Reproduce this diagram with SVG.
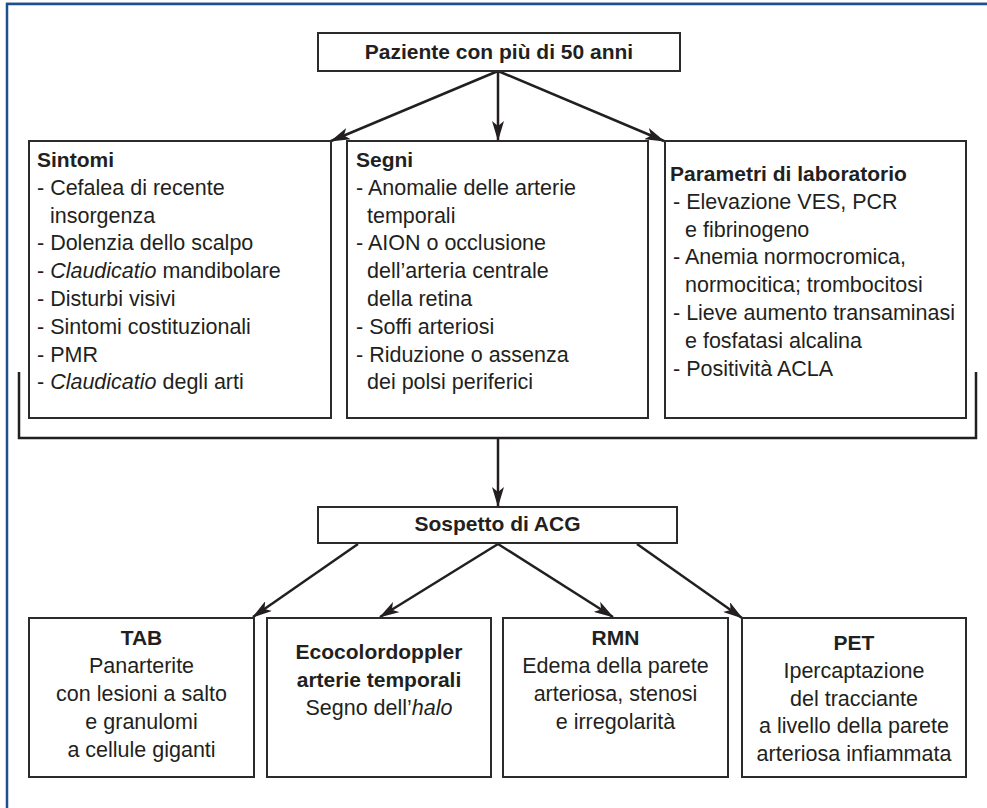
<svg xmlns="http://www.w3.org/2000/svg" width="987" height="808" viewBox="0 0 987 808">
<defs>
<marker id="ah" viewBox="0 0 20 12" refX="19" refY="6" markerWidth="20" markerHeight="12" markerUnits="userSpaceOnUse" orient="auto">
<path d="M0,0 L20,6 L0,12 L5,6 Z" fill="#231f20"/>
</marker>
<style>
.box{fill:#fff;stroke:#2b2b2b;stroke-width:2}
.t{font-family:"Liberation Sans",Arial,sans-serif;font-size:21.5px;fill:#231f20}
.b{font-family:"Liberation Sans",Arial,sans-serif;font-size:21px;font-weight:bold;fill:#231f20}
.c{text-anchor:middle}
.conn{stroke:#231f20;stroke-width:2.5;fill:none}
.arr{marker-end:url(#ah)}
</style>
</defs>
<rect width="987" height="808" fill="#fff"/>
<g id="frame">
<line x1="6" y1="2.5" x2="987" y2="2.5" stroke="#c9ced6" stroke-width="1"/>
<line x1="6" y1="4" x2="987" y2="4" stroke="#1d4f91" stroke-width="2.5"/>
<line x1="7" y1="3" x2="7" y2="808" stroke="#1d4f91" stroke-width="2.5"/>
</g>
<g id="connectors">
<line class="conn arr" x1="498" y1="71" x2="331" y2="141"/>
<line class="conn arr" x1="498" y1="71" x2="498" y2="140"/>
<line class="conn arr" x1="498" y1="71" x2="664" y2="141"/>
<path class="conn" d="M19,372 V438 H976 V372"/>
<line class="conn arr" x1="498" y1="438" x2="498" y2="506"/>
<line class="conn arr" x1="358" y1="544" x2="253" y2="617"/>
<line class="conn arr" x1="498" y1="544" x2="380" y2="617"/>
<line class="conn arr" x1="498" y1="544" x2="613" y2="617"/>
<line class="conn arr" x1="637" y1="544" x2="742" y2="618"/>
</g>
<g id="paziente">
<rect class="box" x="318" y="33" width="362" height="38"/>
<text class="b c" x="499" y="59">Paziente con più di 50 anni</text>
</g>
<g id="sintomi">
<rect class="box" x="29" y="141" width="302" height="277"/>
<text class="b" x="37" y="167">Sintomi</text>
<text class="t" x="37" y="194.8">- Cefalea di recente</text>
<text class="t" x="50" y="222.6">insorgenza</text>
<text class="t" x="37" y="250.4">- Dolenzia dello scalpo</text>
<text class="t" x="37" y="278.2">- <tspan font-style="italic">Claudicatio</tspan> mandibolare</text>
<text class="t" x="37" y="306">- Disturbi visivi</text>
<text class="t" x="37" y="333.8">- Sintomi costituzionali</text>
<text class="t" x="37" y="361.6">- PMR</text>
<text class="t" x="37" y="389.4">- <tspan font-style="italic">Claudicatio</tspan> degli arti</text>
</g>
<g id="segni">
<rect class="box" x="347" y="141" width="301" height="277"/>
<text class="b" x="356" y="167">Segni</text>
<text class="t" x="356" y="194.8">- Anomalie delle arterie</text>
<text class="t" x="367" y="222.6">temporali</text>
<text class="t" x="356" y="250.4">- AION o occlusione</text>
<text class="t" x="367" y="278.2">dell’arteria centrale</text>
<text class="t" x="367" y="306">della retina</text>
<text class="t" x="356" y="333.8">- Soffi arteriosi</text>
<text class="t" x="356" y="361.6">- Riduzione o assenza</text>
<text class="t" x="367" y="389.4">dei polsi periferici</text>
</g>
<g id="laboratorio">
<rect class="box" x="665" y="141" width="301" height="277"/>
<text class="b" x="670" y="181">Parametri di laboratorio</text>
<text class="t" x="673" y="208.8">- Elevazione VES, PCR</text>
<text class="t" x="685" y="236.6">e fibrinogeno</text>
<text class="t" x="673" y="264.4">- Anemia normocromica,</text>
<text class="t" x="685" y="292.2">normocitica; trombocitosi</text>
<text class="t" x="673" y="320">- Lieve aumento transaminasi</text>
<text class="t" x="685" y="347.8">e fosfatasi alcalina</text>
<text class="t" x="673" y="375.6">- Positività ACLA</text>
</g>
<g id="sospetto">
<rect class="box" x="318" y="507" width="359" height="36"/>
<text class="b c" x="497.5" y="531">Sospetto di ACG</text>
</g>
<g id="tab">
<rect class="box" x="29" y="618" width="225" height="159"/>
<text class="b c" x="141.5" y="645">TAB</text>
<text class="t c" x="141.5" y="673">Panarterite</text>
<text class="t c" x="141.5" y="701">con lesioni a salto</text>
<text class="t c" x="141.5" y="729">e granulomi</text>
<text class="t c" x="141.5" y="757">a cellule giganti</text>
</g>
<g id="ecocolordoppler">
<rect class="box" x="267" y="618" width="224" height="159"/>
<text class="b c" x="379" y="659">Ecocolordoppler</text>
<text class="b c" x="379" y="687">arterie temporali</text>
<text class="t c" x="379" y="715">Segno dell’<tspan font-style="italic">halo</tspan></text>
</g>
<g id="rmn">
<rect class="box" x="503" y="618" width="225" height="159"/>
<text class="b c" x="615.5" y="645">RMN</text>
<text class="t c" x="615.5" y="673">Edema della parete</text>
<text class="t c" x="615.5" y="701">arteriosa, stenosi</text>
<text class="t c" x="615.5" y="729">e irregolarità</text>
</g>
<g id="pet">
<rect class="box" x="742" y="618" width="224" height="159"/>
<text class="b c" x="854" y="650">PET</text>
<text class="t c" x="854" y="678">Ipercaptazione</text>
<text class="t c" x="854" y="706">del tracciante</text>
<text class="t c" x="854" y="733">a livello della parete</text>
<text class="t c" x="854" y="761">arteriosa infiammata</text>
</g>
</svg>
